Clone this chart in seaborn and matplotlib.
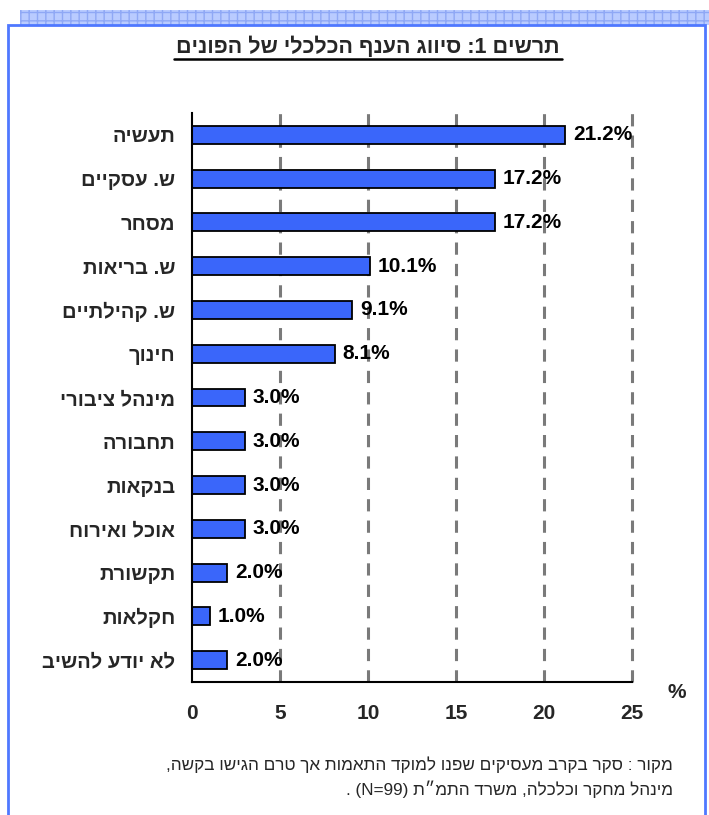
import matplotlib
matplotlib.use("Agg")
import matplotlib.pyplot as plt
import seaborn as sns
import pandas as pd
from matplotlib.patches import Rectangle
from matplotlib.lines import Line2D

categories = ["תעשיה", "ש. עסקיים", "מסחר", "ש. בריאות", "ש. קהילתיים", "חינוך",
              "מינהל ציבורי", "תחבורה", "בנקאות", "אוכל ואירוח", "תקשורת", "חקלאות",
              "לא יודע להשיב"]
values = [21.2, 17.2, 17.2, 10.1, 9.1, 8.1, 3.0, 3.0, 3.0, 3.0, 2.0, 1.0, 2.0]
xticks = [0, 5, 10, 15, 20, 25]

title = "תרשים 1: סיווג הענף הכלכלי של הפונים"
source1 = "מקור : סקר בקרב מעסיקים שפנו למוקד התאמות אך טרם הגישו בקשה,"
source2_heb = "מינהל מחקר וכלכלה, משרד התמ״ת"


def vis(s):
    # visual (left-to-right) order for pure RTL text
    return s[::-1]


sns.set_theme(style="white")
plt.rcParams['font.family'] = ['Liberation Sans', 'DejaVu Sans']

W, H = 709, 815
fig = plt.figure(figsize=(W / 100, H / 100), dpi=100)

# frame and top strip
fig.patches.append(Rectangle((20 / W, 1 - 25 / H), (709 - 20) / W, 15 / H,
                             transform=fig.transFigure, facecolor="#B9CBFF",
                             edgecolor="#8FA8F5", hatch="++", lw=0, zorder=0))
fig.patches.append(Rectangle((8 / W, -0.05), (705 - 8) / W, 1 - 25 / H + 0.05,
                             transform=fig.transFigure, facecolor="white",
                             edgecolor="#4F78FF", lw=2, zorder=1))

ax = fig.add_axes([192 / W, 1 - 682 / H, (632 - 192) / W, (682 - 113) / H])
ax.set_zorder(2)
ax.patch.set_alpha(0)

df = pd.DataFrame({"cat": [vis(c) for c in categories], "val": values})
sns.barplot(data=df, x="val", y="cat", orient="h", color="#3A66FA",
            edgecolor="black", linewidth=1.3, width=0.41, saturation=1, ax=ax)

ax.set_xlim(0, 25)
ax.set_ylim(len(categories) - 0.5, -0.5)
ax.set_axisbelow(True)
for xv in xticks[1:]:
    ax.axvline(xv, color="#7A7A7A", lw=2.2, linestyle=(0, (4, 3)), zorder=0,
               clip_on=False)

for i, v in enumerate(values):
    ax.text(v + 0.45, i, f"{v:.1f}%", va="center", ha="left",
            fontsize=15, fontweight="bold", color="black")

ax.set_xlabel("")
ax.set_ylabel("")
ax.set_xticks(xticks)
ax.set_xticklabels([str(t) for t in xticks], fontsize=15, fontweight="bold")
ax.tick_params(axis="x", length=0, pad=16)
ax.set_xticks([0], minor=True)
ax.tick_params(axis="x", which="minor", length=8, width=1.5, color="black", direction="out")
ax.tick_params(axis="y", which="major", length=0, pad=12, labelsize=14.5)
for lab in ax.get_yticklabels():
    lab.set_fontweight("bold")
ax.set_yticks([i - 0.5 for i in range(len(categories) + 1)], minor=True)
ax.tick_params(axis="y", which="minor", length=8, width=1.5, color="black", direction="out")

for s in ["top", "right"]:
    ax.spines[s].set_visible(False)
for s in ["left", "bottom"]:
    ax.spines[s].set_color("black")
    ax.spines[s].set_linewidth(1.5)

fig.text(677 / W, 1 - 693 / H, "%", ha="center", va="center",
         fontsize=15, fontweight="bold")

# title with underline
t = fig.text(368 / W, 1 - 47 / H, vis(title), ha="center", va="center",
             fontsize=15.5, fontweight="bold")
fig.add_artist(Line2D([174 / W, 562 / W], [1 - 59 / H, 1 - 59 / H],
                      transform=fig.transFigure, color="black", lw=1.8))

fig.text(673 / W, 1 - 765 / H, vis(source1), ha="right", va="center", fontsize=12.3)
fig.text(673 / W, 1 - 789 / H, ". (N=99) " + vis(source2_heb), ha="right",
         va="center", fontsize=12.3)

fig.savefig("out.png", dpi=100)
